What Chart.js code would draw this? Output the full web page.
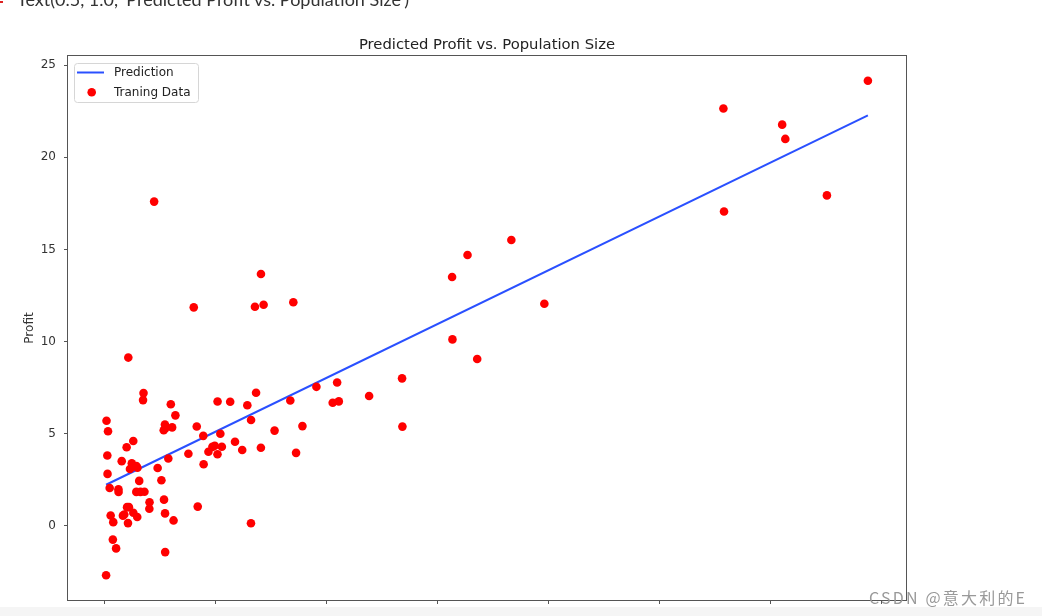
<!DOCTYPE html>
<html>
<head>
<meta charset="utf-8">
<script src="https://cdn.jsdelivr.net/npm/chart.js@4.4.0/dist/chart.umd.min.js"></script>
<style>
html, body { margin: 0; padding: 0; background: #fff; overflow: hidden; }
#wrap { position: relative; width: 1042px; height: 616px; overflow: hidden; }
canvas { position: absolute; left: 0; top: 0; }
#out { position: absolute; left: 17px; top: -12px; font: 18px Lato, sans-serif; line-height: 22px; color: #333; white-space: nowrap; }
#prompt { position: absolute; left: 0; top: 1px; width: 3px; height: 2px; background: #d22; }
#title { position: absolute; left: 68px; width: 838px; top: 35px; text-align: center; font: 14.8px 'DejaVu Sans'; color: #222; white-space: nowrap; }
#strip { position: absolute; left: 0; top: 607px; width: 1042px; height: 9px; background: #f5f5f5; }
#mark { position: absolute; left: 869px; top: 589px; font: 16px 'Noto Sans CJK SC'; line-height: 17px; letter-spacing: 2.2px; color: #999; white-space: nowrap; }
</style>
</head>
<body>
<div id="wrap">
  <canvas id="c" width="1042" height="616"></canvas>
  <div id="prompt"></div>
  <div id="out">Text(0.5, 1.0, 'Predicted Profit vs. Population Size')</div>
  <div id="title">Predicted Profit vs. Population Size</div>
  <div id="strip"></div>
  <div id="mark">CSDN @意大利的E</div>
</div>
<script>
// training data (population in 10,000s, profit in $10,000s)
const population = [6.1101, 5.5277, 8.5186, 7.0032, 5.8598, 8.3829, 7.4764, 8.5781, 6.4862, 5.0546,
  5.7107, 14.164, 5.734, 8.4084, 5.6407, 5.3794, 6.3654, 5.1301, 6.4296, 7.0708,
  6.1891, 20.27, 5.4901, 6.3261, 5.5649, 18.945, 12.828, 10.957, 13.176, 22.203,
  5.2524, 6.5894, 9.2482, 5.8918, 8.2111, 7.9334, 8.0959, 5.6063, 12.836, 6.3534,
  5.4069, 6.8825, 11.708, 5.7737, 7.8247, 7.0931, 5.0702, 5.8014, 11.7, 5.5416,
  7.5402, 5.3077, 7.4239, 7.6031, 6.3328, 6.3589, 6.2742, 5.6397, 9.3102, 9.4536,
  8.8254, 5.1793, 21.279, 14.908, 18.959, 7.2182, 8.2951, 10.236, 5.4994, 20.341,
  10.136, 7.3345, 6.0062, 7.2259, 5.0269, 6.5479, 7.5386, 5.0365, 10.274, 5.1077,
  5.7292, 5.1884, 6.3557, 9.7687, 6.5159, 8.5172, 9.1802, 6.002, 5.5204, 5.0594,
  5.7077, 7.6366, 5.8707, 5.3054, 8.2934, 13.394, 5.4369];
const profit = [17.592, 9.1302, 13.662, 11.854, 6.8233, 11.886, 4.3483, 12, 6.5987, 3.8166,
  3.2522, 15.505, 3.1551, 7.2258, 0.71618, 3.5129, 5.3048, 0.56077, 3.6518, 5.3893,
  3.1386, 21.767, 4.263, 5.1875, 3.0825, 22.638, 13.501, 7.0467, 14.692, 24.147,
  -1.22, 5.9966, 12.134, 1.8495, 6.5426, 4.5623, 4.1164, 3.3928, 10.117, 5.4974,
  0.55657, 3.9115, 5.3854, 2.4406, 6.7318, 1.0463, 5.1337, 1.844, 8.0043, 1.0179,
  6.7504, 1.8396, 4.2885, 4.9981, 1.4233, -1.4211, 2.4756, 4.6042, 3.9624, 5.4141,
  5.1694, -0.74279, 17.929, 12.054, 17.054, 4.8852, 5.7442, 7.7754, 1.0173, 20.992,
  6.6799, 4.0259, 1.2784, 3.3411, -2.6807, 0.29678, 3.8845, 5.7014, 6.7526, 2.0576,
  0.47953, 0.20421, 0.67861, 7.5435, 5.3436, 4.2415, 6.7981, 0.92695, 0.152, 2.8214,
  1.8451, 4.2959, 7.2029, 1.9869, 0.14454, 9.0551, 0.61705];

// fitted line end points
const lineX = [5.0269, 22.203];
const lineY = [2.233, 22.267];

const xTicks = [5, 7.5, 10, 12.5, 15, 17.5, 20, 22.5];
const yTicks = [0, 5, 10, 15, 20, 25];

const axisColor = '#555';
const tickFont = { family: 'DejaVu Sans', size: 12 };

const frame = {
  id: 'frame',
  afterDatasetsDraw(chart) {
    const a = chart.chartArea;
    const ctx = chart.ctx;
    ctx.save();
    ctx.strokeStyle = axisColor;
    ctx.lineWidth = 1;
    ctx.strokeRect(a.left - 0.5, a.top - 0.5, a.right - a.left + 1, a.bottom - a.top + 1);
    ctx.restore();
  }
};

const legendBox = {
  id: 'legendBox',
  afterDraw(chart) {
    const ctx = chart.ctx;
    const a = chart.chartArea;
    const pts = chart.data.datasets[0];
    const line = chart.data.datasets[1];
    const x = a.left + 6, y = a.top + 7, w = 124, h = 39;
    ctx.save();
    ctx.beginPath();
    ctx.roundRect(x + 0.5, y + 0.5, w, h, 3);
    ctx.fillStyle = 'rgba(255,255,255,0.85)';
    ctx.fill();
    ctx.strokeStyle = '#d6d6d6';
    ctx.lineWidth = 1;
    ctx.stroke();

    ctx.beginPath();
    ctx.moveTo(x + 3, y + 9.5);
    ctx.lineTo(x + 30, y + 9.5);
    ctx.strokeStyle = line.borderColor;
    ctx.lineWidth = 2;
    ctx.stroke();

    ctx.beginPath();
    ctx.arc(x + 17.7, y + 29.3, 4.3, 0, Math.PI * 2);
    ctx.fillStyle = pts.backgroundColor;
    ctx.fill();

    ctx.fillStyle = '#222';
    ctx.font = '12px "DejaVu Sans"';
    ctx.textBaseline = 'middle';
    ctx.fillText(line.label, x + 40, y + 9.5);
    ctx.fillText(pts.label, x + 40, y + 29.5);
    ctx.restore();
  }
};

new Chart(document.getElementById('c'), {
  type: 'scatter',
  data: {
    datasets: [
      {
        label: 'Traning Data',
        data: population.map((x, i) => ({ x: x, y: profit[i] })),
        backgroundColor: '#ff0000',
        borderWidth: 0,
        pointRadius: 4.3,
        pointHoverRadius: 4.3,
        order: 0
      },
      {
        label: 'Prediction',
        type: 'line',
        data: lineX.map((x, i) => ({ x: x, y: lineY[i] })),
        borderColor: '#2a50ff',
        borderWidth: 2,
        pointRadius: 0,
        showLine: true,
        fill: false,
        order: 1
      }
    ]
  },
  options: {
    responsive: false,
    animation: false,
    devicePixelRatio: 1,
    layout: { padding: { top: 56, right: 136, bottom: 0, left: 0 } },
    plugins: {
      legend: { display: false },
      title: { display: false },
      tooltip: { enabled: false }
    },
    scales: {
      x: {
        type: 'linear',
        min: 4.168,
        max: 23.062,
        afterBuildTicks: s => { s.ticks = xTicks.map(v => ({ value: v })); },
        afterFit: s => { s.height = 16; },
        ticks: { display: false },
        grid: { drawOnChartArea: false, drawTicks: true, tickLength: 4, color: axisColor, tickColor: axisColor },
        border: { display: false }
      },
      y: {
        type: 'linear',
        min: -4.02,
        max: 25.49,
        afterBuildTicks: s => { s.ticks = yTicks.map(v => ({ value: v })); },
        afterFit: s => { s.width = 68; },
        ticks: { color: '#333', font: tickFont, padding: 8 },
        grid: { drawOnChartArea: false, drawTicks: true, tickLength: 4, color: axisColor, tickColor: axisColor },
        border: { display: false },
        title: { display: true, text: 'Profit', color: '#333', font: tickFont, padding: { top: 23, bottom: 0 } }
      }
    }
  },
  plugins: [frame, legendBox]
});
</script>
</body>
</html>
